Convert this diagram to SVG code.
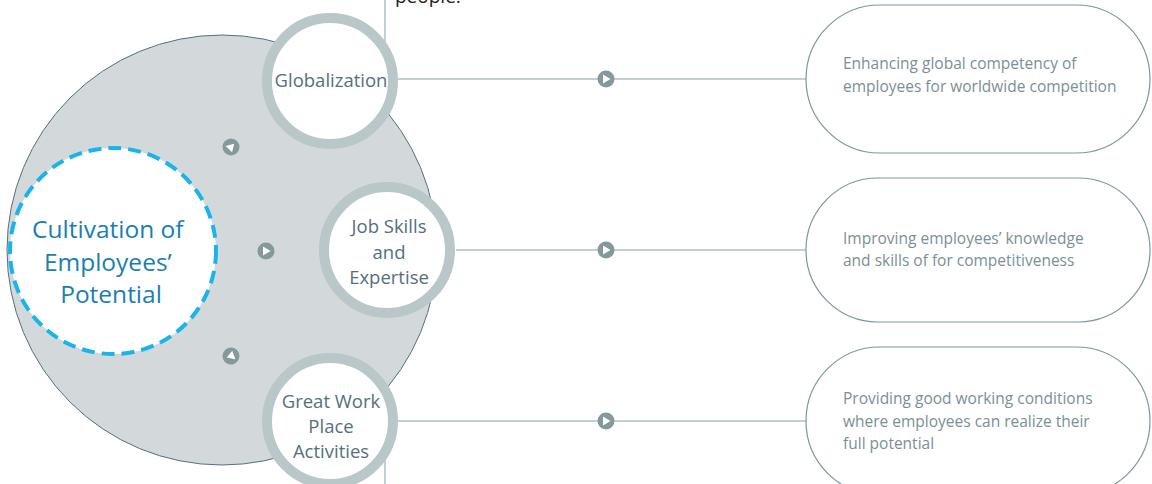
<svg xmlns="http://www.w3.org/2000/svg" width="1152" height="484" viewBox="0 0 1152 484">
<style>
.node-ring{fill:#ffffff;stroke:#b9c7c8;stroke-width:10}
.node-label{font-family:"Open Sans","Liberation Sans",sans-serif;font-size:18.5px;fill:#55707b;text-anchor:middle}
.pill{fill:#ffffff;stroke:#7d979b;stroke-width:1.2}
.pill-text{font-family:"Open Sans","Liberation Sans",sans-serif;font-size:15.5px;fill:#7b8f95}
.conn{stroke:#8aa0a3;stroke-width:1.2;fill:none}
.badge{fill:#84999c}
.tri{fill:#ffffff}
</style>
<defs>
<g id="badge">
<circle r="8.5" class="badge"/>
<polygon points="-3,-4.5 4.5,0 -3,4.5" class="tri"/>
</g>
</defs>
<rect width="1152" height="484" fill="#ffffff"/>
<text x="395" y="3" font-family="'Open Sans','Liberation Sans',sans-serif" font-size="19" fill="#222222">people.</text>
<line x1="385" y1="0" x2="385" y2="484" stroke="#c5d0d4" stroke-width="2"/>

<g id="hub">
<circle cx="222" cy="250" r="215" fill="#d3d9db" stroke="#56707c" stroke-width="1"/>
</g>

<g id="connectors">
<line x1="397" y1="79" x2="806" y2="79" class="conn"/>
<line x1="456" y1="250" x2="806" y2="250" class="conn"/>
<line x1="397" y1="421" x2="806" y2="421" class="conn"/>
<use href="#badge" x="606" y="79"/>
<use href="#badge" x="606" y="250"/>
<use href="#badge" x="606" y="421"/>
<use href="#badge" transform="translate(231,147) rotate(-45)"/>
<use href="#badge" x="266" y="251"/>
<use href="#badge" transform="translate(231,356) rotate(160)"/>
</g>

<g id="center">
<circle cx="113" cy="251" r="103" fill="#ffffff" stroke="#19b5ea" stroke-width="4" stroke-dasharray="13 7"/>
<text font-family="'Open Sans','Liberation Sans',sans-serif" font-size="24.5" fill="#1a7fb0" text-anchor="middle">
<tspan x="111" y="238">Cultivation of</tspan>
<tspan x="111" y="271">Employees’</tspan>
<tspan x="111" y="303">Potential</tspan>
</text>
</g>

<g id="globalization">
<circle cx="330" cy="81" r="63" class="node-ring"/>
<text class="node-label"><tspan x="331" y="87">Globalization</tspan></text>
</g>

<g id="jobskills">
<circle cx="387" cy="250" r="63" class="node-ring"/>
<text class="node-label"><tspan x="389" y="233">Job Skills</tspan><tspan x="389" y="259">and</tspan><tspan x="389" y="284">Expertise</tspan></text>
</g>

<g id="greatwork">
<circle cx="330" cy="421" r="63" class="node-ring"/>
<text class="node-label"><tspan x="331" y="408">Great Work</tspan><tspan x="331" y="433">Place</tspan><tspan x="331" y="458">Activities</tspan></text>
</g>

<g id="goal-global">
<rect x="806" y="5" width="344" height="148" rx="74" class="pill"/>
<text class="pill-text"><tspan x="843" y="69">Enhancing global competency of</tspan><tspan x="843" y="92">employees for worldwide competition</tspan></text>
</g>

<g id="goal-skills">
<rect x="806" y="178" width="344" height="144" rx="72" class="pill"/>
<text class="pill-text"><tspan x="843" y="244">Improving employees’ knowledge</tspan><tspan x="843" y="266">and skills of for competitiveness</tspan></text>
</g>

<g id="goal-work">
<rect x="806" y="347" width="344" height="148" rx="74" class="pill"/>
<text class="pill-text"><tspan x="843" y="404">Providing good working conditions</tspan><tspan x="843" y="427">where employees can realize their</tspan><tspan x="843" y="449">full potential</tspan></text>
</g>
</svg>
